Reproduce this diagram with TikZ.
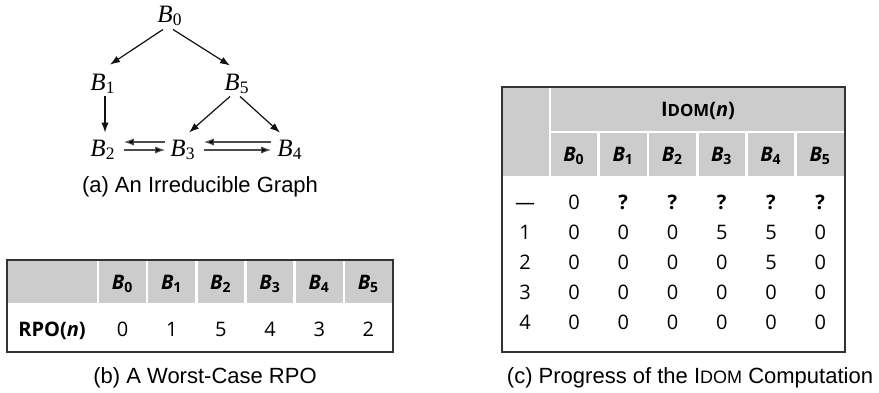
\documentclass[tikz,border=0pt]{standalone}
\usepackage{fontspec}
\setmainfont{Liberation Sans}
\newfontfamily\cellfont{Open Sans}
\newfontfamily\graphfont{Liberation Serif}
\usepackage{tikz}
\usetikzlibrary{
  arrows.meta,
  calc,
}
\definecolor{headGrey}{HTML}{CCCCCC}
\definecolor{frameCol}{HTML}{333333}
\definecolor{edgeCol}{HTML}{111111}

% block names: graph labels and table labels
\newcommand{\gB}[1]{\textit{B}\textsubscript{#1}}
\newcommand{\tB}[1]{\textbf{\textit{B}}\textsubscript{\textbf{#1}}}
\newcommand{\idom}[1]{I{\fontsize{#1}{#1}\selectfont DOM}}
\newcommand{\unk}{\textbf{?}}

\tikzset{
  blocknode/.style={inner sep=0pt, font=\graphfont\fontsize{12.5}{14}\selectfont},
  edge/.style={draw=edgeCol, line width=0.6pt, -{Latex[length=5pt,width=3.6pt]}},
  backedge/.style={draw=black!70, line width=0.55pt, -{Latex[length=5pt,width=3.6pt,fill=black]}},
  cell/.style={inner sep=0pt, anchor=base, font=\cellfont\fontsize{10}{12}\selectfont},
  caption/.style={inner sep=0pt, font=\fontsize{11}{13}\selectfont},
  frame/.style={draw=frameCol, line width=0.7pt},
  gapline/.style={draw=white, line width=1.3pt},
}

\begin{document}
\begin{tikzpicture}[x=0.5pt, y=-0.5pt]
\useasboundingbox (0,0) rectangle (879,392);

% (a) the graph
\node[blocknode] (b0) at (170,16) {\gB{0}};
\node[blocknode] (b1) at (103,84) {\gB{1}};
\node[blocknode] (b5) at (237,84) {\gB{5}};
\node[blocknode] (b2) at (103,150) {\gB{2}};
\node[blocknode] (b3) at (183,150) {\gB{3}};
\node[blocknode] (b4) at (290,150) {\gB{4}};

\draw[edge] ($(b0.south)+(-7,3)$) -- ($(b1.north)+(7,-9)$);
\draw[edge] ($(b0.south)+(3,3)$) -- ($(b5.north)+(-7,-8)$);
\draw[edge] ($(b1.south)+(2,2)$) -- ($(b2.north)+(2,-7)$);
\draw[edge] ($(b5.south)+(-7,2)$) -- ($(b3.north)+(6,-7)$);
\draw[edge] ($(b5.south)+(3,2)$) -- ($(b4.north)+(-10,-7)$);

% the two cycles, drawn as paired arrows
\draw[backedge] ($(b3.west)+(-5,-8)$) -- ($(b2.east)+(8,-8)$);
\draw[backedge] ($(b2.east)+(8,0)$) -- ($(b3.west)+(-5,0)$);
\draw[backedge] ($(b4.west)+(-6,-8)$) -- ($(b3.east)+(8,-8)$);
\draw[backedge] ($(b3.east)+(8,0)$) -- ($(b4.west)+(-6,0)$);

\node[caption] (capA) at (200,187) {(a) An Irreducible Graph};

% (b) RPO table
\fill[headGrey] (7,260) rectangle (393,303);
\foreach \k in {0,...,5}
  \draw[gapline] ({98+49.17*\k},260) -- ++(0,43);
\draw[frame] (7,260) rectangle (393,352);

\node[cell] (rpoLab) at (52,336) {\textbf{RPO(\textit{n})}};
\foreach \v [count=\k from 0] in {0,1,5,4,3,2}
{
  \node[cell] (rpoHead\k) at ({122.6+49.17*\k},289) {\tB{\k}};
  \node[cell] (rpo\k) at ({122.6+49.17*\k},336) {\v};
}

\node[caption] (capB) at (205,378) {(b) A Worst-Case RPO};

% (c) IDOM progress table
\fill[headGrey] (502,87) rectangle (845,176);
\draw[gapline] (550,87) -- (550,176);
\draw[gapline] (550,132) -- (845,132);
\foreach \k in {1,...,5}
  \draw[gapline] ({549.5+49.25*\k},132) -- ++(0,44);
\draw[frame] (502,87) rectangle (845,352);

\node[cell] (idomHead) at (698,116) {\textbf{\idom{8.4}(\textit{n})}};
\foreach \k in {0,...,5}
  \node[cell] (idomCol\k) at ({574+49.25*\k},161) {\tB{\k}};

\foreach \lab/\vals [count=\r from 0] in {%
  —/{0,\unk,\unk,\unk,\unk,\unk},%
  1/{0,0,0,5,5,0},%
  2/{0,0,0,0,5,0},%
  3/{0,0,0,0,0,0},%
  4/{0,0,0,0,0,0}%
}
{
  \node[cell] (pass\r) at (525,{209+30*\r}) {\lab};
  \foreach \v [count=\c from 0] in \vals
    \node[cell] (idom\r-\c) at ({574+49.25*\c},{209+30*\r}) {\v};
}

\node[caption] (capC) at (690,378) {(c) Progress of the \idom{9} Computation};

\end{tikzpicture}
\end{document}
